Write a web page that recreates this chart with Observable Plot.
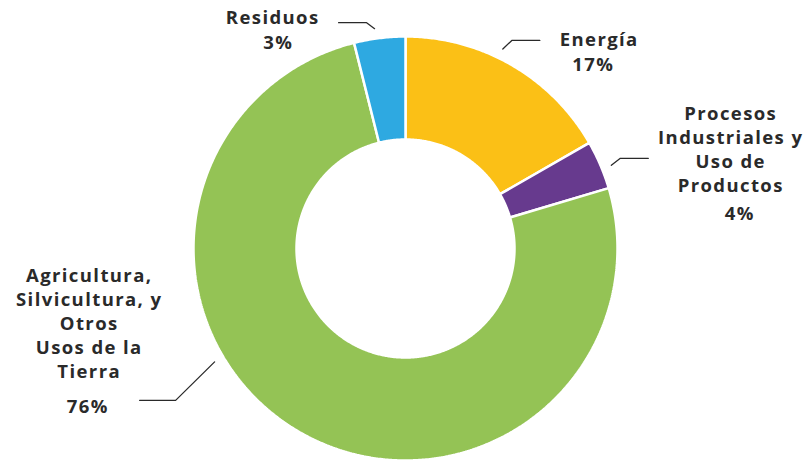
<!DOCTYPE html>
<html><head><meta charset="utf-8">
<script src="https://cdn.jsdelivr.net/npm/d3@7"></script>
<script src="https://cdn.jsdelivr.net/npm/@observablehq/plot@0.6"></script>
<style>body{margin:0;background:#fff}</style>
</head><body><div id="chart"></div>
<script>
// ---- data ----
const sectors = ["Energía", "Procesos Industriales y Uso de Productos", "Agricultura, Silvicultura, y Otros Usos de la Tierra", "Residuos"];
const shares = [16.7, 3.7, 75.7, 3.9];
const pctLabels = ["17%", "4%", "76%", "3%"];
const nameLines = [
  ["Energía"],
  ["Procesos", "Industriales y", "Uso de", "Productos"],
  ["Agricultura,", "Silvicultura, y", "Otros", "Usos de la", "Tierra"],
  ["Residuos"]
];

// ---- style / layout ----
const colors = ["#FBC016", "#673A8E", "#94C355", "#2EA9E1"];
const R = 212, r0 = 109;
const layout = [
  {leadA: 26, elbow: [9, 8.5], tail: 28, name: [193, 208.5], pct: [187, 183]},
  {leadA: 68, elbow: [9, 7], tail: 28, name: [324.5, 134.5], pct: [333.5, 34.5]},
  {leadA: 239.3, elbow: [-39, -38.5], tail: -36, name: [-317, -27.5], pct: [-318.5, -159]},
  {leadA: 352, elbow: [-8, 6], tail: -28, name: [-133.5, 230], pct: [-128, 205]}
];
const lineStep = 24;
const ink = "#2a2a2a";

const pie = d3.pie().sort(null).value(d => d)(shares);
const rad = deg => deg * Math.PI / 180;
const pt = (a, rr) => ({x: rr * Math.sin(a), y: rr * Math.cos(a)});

const marks = [];
pie.forEach((p, i) => {
  const n = Math.max(8, Math.ceil((p.endAngle - p.startAngle) * 120));
  const pts = [];
  for (let k = 0; k <= n; k++) pts.push(pt(p.startAngle + (p.endAngle - p.startAngle) * k / n, R));
  for (let k = n; k >= 0; k--) pts.push(pt(p.startAngle + (p.endAngle - p.startAngle) * k / n, r0));
  pts.push(pts[0]);
  marks.push(Plot.line(pts, {x: "x", y: "y", fill: colors[i], stroke: "white", strokeWidth: 2.5, strokeLinejoin: "miter"}));
});

// leader lines
pie.forEach((p, i) => {
  const L = layout[i];
  const s = pt(rad(L.leadA), 222);
  const e = {x: s.x + L.elbow[0], y: s.y + L.elbow[1]};
  const t = {x: e.x + L.tail, y: e.y};
  marks.push(Plot.line([s, e, t], {x: "x", y: "y", stroke: ink, strokeWidth: 1.3}));
});

// labels
const nameRows = [], pctRows = [];
sectors.forEach((s, i) => {
  const L = layout[i];
  nameLines[i].forEach((t, j) => nameRows.push({x: L.name[0], y: L.name[1] - j * lineStep, t}));
  pctRows.push({x: L.pct[0], y: L.pct[1], t: pctLabels[i]});
});
const textOpts = {x: "x", y: "y", text: "t", fill: ink, fontSize: 18.5, fontWeight: 700, textAnchor: "middle", dx: 0.7};
marks.push(Plot.text(nameRows, textOpts));
marks.push(Plot.text(pctRows, textOpts));

const chart = Plot.plot({
  width: 806, height: 463, margin: 0,
  x: {domain: [-405, 401], axis: null},
  y: {domain: [-215, 248], axis: null},
  style: {fontFamily: "'Open Sans', sans-serif", background: "white", letterSpacing: "1.4px"},
  marks
});
document.getElementById("chart").append(chart);
</script>
</body></html>
